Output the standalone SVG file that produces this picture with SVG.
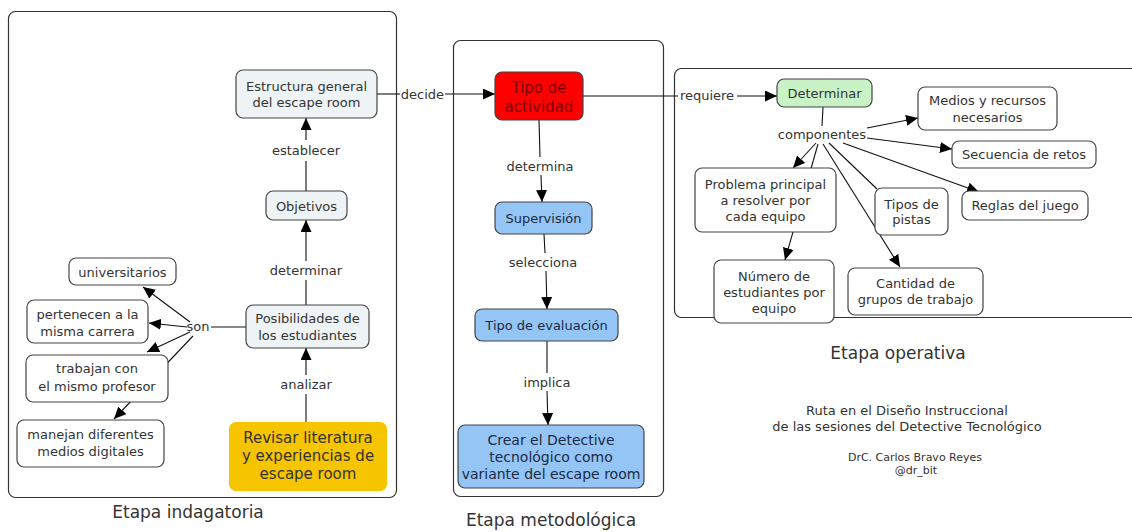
<svg xmlns="http://www.w3.org/2000/svg" width="1132" height="532" viewBox="0 0 1132 532">
<style>
text{font-family:"DejaVu Sans",Verdana,sans-serif;fill:#333;text-anchor:middle}
.n{font-size:13px}
.l{font-size:13px}
.big{font-size:15px}
.h{font-size:17px}
.panel{fill:#fff;stroke:#333;stroke-width:1.2}
.box{stroke:#444;stroke-width:1.2}
.w{fill:#fff}
.g{fill:#eef3f6}
.b{fill:#94c5f5}
.c{stroke:#111;stroke-width:1.1;fill:none}
.a{marker-end:url(#ah)}
</style>
<defs>
<marker id="ah" markerUnits="userSpaceOnUse" markerWidth="13" markerHeight="11" refX="12" refY="5.5" orient="auto"><path d="M0,0 L12,5.5 L0,11 z" fill="#000"/></marker>
</defs>
<rect width="1132" height="532" fill="#fff"/>
<g id="panels">
<rect class="panel" x="8.5" y="11.5" width="388" height="486" rx="7"/>
<rect class="panel" x="453.5" y="40.5" width="210" height="456" rx="7"/>
<rect class="panel" x="674.5" y="68.5" width="470" height="249" rx="7"/>
</g>
<g id="connectors">
<line class="c" x1="306" y1="191" x2="306" y2="161"/><line class="c a" x1="306" y1="140" x2="306" y2="118"/>
<text class="l" x="306" y="154.5">establecer</text>
<line class="c" x1="306" y1="305" x2="306" y2="280"/><line class="c a" x1="306" y1="261" x2="306" y2="220"/>
<text class="l" x="306" y="274.5">determinar</text>
<line class="c" x1="306" y1="422" x2="306" y2="394"/><line class="c a" x1="306" y1="375" x2="306" y2="348"/>
<text class="l" x="306" y="388.5">analizar</text>
<line class="c" x1="377" y1="94" x2="400" y2="94"/><line class="c a" x1="445" y1="94" x2="495" y2="94"/>
<text class="l" x="422.5" y="98.5">decide</text>
<line class="c" x1="246" y1="327" x2="211" y2="327"/>
<text class="l" x="198" y="331">son</text>
<line class="c a" x1="190" y1="322" x2="143" y2="287"/>
<line class="c a" x1="187" y1="327" x2="149" y2="323"/>
<line class="c a" x1="190" y1="332" x2="147" y2="352"/>
<line class="c a" x1="193" y1="336" x2="114" y2="419"/>
<line class="c" x1="539" y1="120" x2="540" y2="157"/><line class="c a" x1="541" y1="175" x2="542" y2="202"/>
<text class="l" x="540" y="170.5">determina</text>
<line class="c" x1="544" y1="234" x2="545" y2="253"/><line class="c a" x1="546" y1="271" x2="547" y2="309"/>
<text class="l" x="543" y="266.5">selecciona</text>
<line class="c" x1="547" y1="341" x2="547" y2="373"/><line class="c a" x1="547" y1="391" x2="548" y2="425"/>
<text class="l" x="547" y="386.5">implica</text>
<line class="c" x1="583" y1="96" x2="678" y2="96"/><line class="c a" x1="737" y1="96" x2="777" y2="96"/>
<text class="l" x="707" y="100">requiere</text>
<line class="c" x1="823" y1="107" x2="822" y2="126"/>
<text class="l" x="822" y="138.5">componentes</text>
<line class="c a" x1="867" y1="128" x2="918" y2="118"/>
<line class="c a" x1="867" y1="138" x2="952" y2="149"/>
<line class="c a" x1="843" y1="143" x2="979" y2="192"/>
<line class="c" x1="829" y1="143" x2="877" y2="189"/>
<line class="c a" x1="823" y1="144" x2="900" y2="267"/>
<line class="c a" x1="816" y1="143" x2="793" y2="168"/>
<line class="c a" x1="818" y1="144" x2="785" y2="260"/>
</g>
<g id="estructura"><rect class="box g" x="236" y="70" width="141" height="48" rx="7"/><text class="n" x="306.5" y="90.5">Estructura general</text><text class="n" x="306.5" y="106.5">del escape room</text></g>
<g id="objetivos"><rect class="box g" x="266" y="191" width="81" height="29" rx="7"/><text class="n" x="306.5" y="210.5">Objetivos</text></g>
<g id="posibilidades"><rect class="box g" x="246" y="305" width="123" height="43" rx="7"/><text class="n" x="307.5" y="322.5">Posibilidades de</text><text class="n" x="307.5" y="339.5">los estudiantes</text></g>
<g id="revisar"><rect x="229" y="422" width="158" height="69" rx="7" fill="#f7c400"/><text class="big" x="308" y="442.5">Revisar literatura</text><text class="big" x="308" y="460.5">y experiencias de</text><text class="big" x="308" y="478.5">escape room</text></g>
<g id="universitarios"><rect class="box w" x="69" y="258" width="107" height="27" rx="7"/><text class="n" x="122.5" y="276.5">universitarios</text></g>
<g id="pertenecen"><rect class="box w" x="27" y="300" width="121" height="43" rx="7"/><text class="n" x="87.5" y="318.5">pertenecen a la</text><text class="n" x="87.5" y="335.5">misma carrera</text></g>
<g id="trabajan"><rect class="box w" x="26" y="355" width="142" height="47" rx="7"/><text class="n" x="97" y="372.5">trabajan con</text><text class="n" x="97" y="390.5">el mismo profesor</text></g>
<g id="manejan"><rect class="box w" x="17" y="420" width="147" height="47" rx="7"/><text class="n" x="90.5" y="438.5">manejan diferentes</text><text class="n" x="90.5" y="455.5">medios digitales</text></g>
<g id="tipo-actividad"><rect class="box" x="495" y="72" width="88" height="48" rx="7" fill="#f00"/><text class="big" x="539" y="93" style="fill:#7a0000">Tipo de</text><text class="big" x="539" y="112" style="fill:#7a0000">actividad</text></g>
<g id="supervision"><rect class="box b" x="495" y="202" width="97" height="32" rx="7"/><text class="n" x="543.5" y="222.5" style="fill:#1c2a44">Supervisión</text></g>
<g id="tipo-evaluacion"><rect class="box b" x="475" y="309" width="143" height="32" rx="7"/><text class="n" x="546.5" y="329.5" style="fill:#1c2a44">Tipo de evaluación</text></g>
<g id="crear"><rect class="box b" x="458" y="425" width="186" height="63" rx="7"/><text x="551" y="445" style="font-size:14px;fill:#1c2a44">Crear el Detective</text><text x="551" y="462" style="font-size:14px;fill:#1c2a44">tecnológico como</text><text x="551" y="478.5" style="font-size:14px;fill:#1c2a44">variante del escape room</text></g>
<g id="determinar"><rect class="box" x="777" y="79" width="95" height="28" rx="7" fill="#c9f2c7"/><text class="n" x="824.5" y="97.5">Determinar</text></g>
<g id="medios"><rect class="box w" x="918" y="87" width="139" height="43" rx="7"/><text class="n" x="987.5" y="104.5">Medios y recursos</text><text class="n" x="987.5" y="121.5">necesarios</text></g>
<g id="secuencia"><rect class="box w" x="952" y="141" width="144" height="27" rx="7"/><text class="n" x="1024" y="159">Secuencia de retos</text></g>
<g id="reglas"><rect class="box w" x="962" y="191" width="126" height="29" rx="7"/><text class="n" x="1025" y="210">Reglas del juego</text></g>
<g id="tipos-pistas"><rect class="box w" x="875" y="188" width="73" height="47" rx="7"/><text class="n" x="911.5" y="208.5">Tipos de</text><text class="n" x="911.5" y="223.5">pistas</text></g>
<g id="problema"><rect class="box w" x="695" y="168" width="141" height="64" rx="7"/><text class="n" x="765.5" y="188.5">Problema principal</text><text class="n" x="765.5" y="204.5">a resolver por</text><text class="n" x="765.5" y="220.5">cada equipo</text></g>
<g id="numero"><rect class="box w" x="714" y="260" width="120" height="63" rx="7"/><text class="n" x="774" y="280.5">Número de</text><text class="n" x="774" y="296.5">estudiantes por</text><text class="n" x="774" y="312.5">equipo</text></g>
<g id="cantidad"><rect class="box w" x="848" y="268" width="135" height="47" rx="7"/><text class="n" x="915.5" y="287.5">Cantidad de</text><text class="n" x="915.5" y="303.5">grupos de trabajo</text></g>
<g id="labels">
<text class="h" x="188" y="518">Etapa indagatoria</text>
<text class="h" x="551" y="526">Etapa metodológica</text>
<text class="h" x="898" y="359">Etapa operativa</text>
<text x="907" y="415" style="font-size:13px">Ruta en el Diseño Instruccional</text>
<text x="907" y="431" style="font-size:13px">de las sesiones del Detective Tecnológico</text>
<text x="915" y="461" style="font-size:11px">DrC. Carlos Bravo Reyes</text>
<text x="916" y="474" style="font-size:11px">@dr_bit</text>
</g>
</svg>
